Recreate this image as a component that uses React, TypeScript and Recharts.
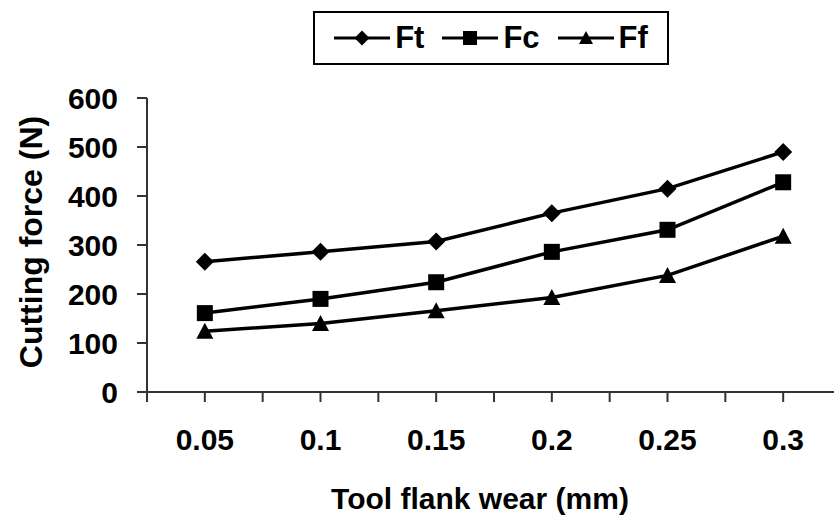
import { LineChart, Line, XAxis, YAxis, Legend } from 'recharts';

// tool flank wear (mm) on the x axis
const wear = [0.05, 0.1, 0.15, 0.2, 0.25, 0.3];
const wearLabels = ['0.05', '0.1', '0.15', '0.2', '0.25', '0.3'];
const wearTicks = [0.025, 0.05, 0.075, 0.1, 0.125, 0.15, 0.175, 0.2, 0.225, 0.25, 0.275, 0.3];

// cutting force components (N)
const ft = [266, 286, 307, 365, 415, 490];
const fc = [161, 190, 224, 286, 331, 428];
const ff = [124, 140, 166, 193, 238, 318];

const forceTicks = [0, 100, 200, 300, 400, 500, 600];

const data = wear.map((w, i) => ({ wear: w, Ft: ft[i], Fc: fc[i], Ff: ff[i] }));

const font = '"Liberation Sans", Arial, sans-serif';
const axisColor = '#333';

const Diamond = ({ cx, cy, r = 9 }: any) => (
  <path d={`M${cx},${cy - r}L${cx + r},${cy}L${cx},${cy + r}L${cx - r},${cy}Z`} fill="#000" />
);
const Square = ({ cx, cy, r = 8 }: any) => (
  <rect x={cx - r} y={cy - r} width={r * 2} height={r * 2} fill="#000" />
);
const Triangle = ({ cx, cy, r = 8.5 }: any) => (
  <path d={`M${cx},${cy - r}L${cx + r},${cy + r - 1}L${cx - r},${cy + r - 1}Z`} fill="#000" />
);

const series = [
  { key: 'Ft', Marker: Diamond },
  { key: 'Fc', Marker: Square },
  { key: 'Ff', Marker: Triangle },
];

const wearFormatter = (v: number) => {
  const i = wear.findIndex((w) => Math.abs(w - v) < 1e-6);
  return i >= 0 ? wearLabels[i] : '';
};

const LegendBox = () => (
  <div
    style={{
      width: 356,
      height: 54,
      boxSizing: 'border-box',
      border: '2px solid #000',
      display: 'flex',
      alignItems: 'center',
      justifyContent: 'center',
      fontFamily: font,
      fontWeight: 'bold',
      fontSize: 31,
      color: '#000',
    }}
  >
    {series.map(({ key, Marker }, i) => (
      <div key={key} style={{ display: 'flex', alignItems: 'center', marginRight: i < 2 ? 18 : 0 }}>
        <svg width={56} height={20}>
          <line x1={0} y1={10} x2={56} y2={10} stroke="#000" strokeWidth={3} />
          <Marker cx={28} cy={10} r={key === 'Ft' ? 7.5 : 7} />
        </svg>
        <span style={{ marginLeft: 5 }}>{key}</span>
      </div>
    ))}
  </div>
);

export default function App() {
  return (
    <div style={{ position: 'absolute', left: 0, top: 0, width: 834, height: 519, overflow: 'hidden', background: '#fff' }}>
      <LineChart width={850} height={519} data={data} margin={{ top: 98, right: 9, bottom: 0, left: 0 }}>
        <XAxis
          type="number"
          dataKey="wear"
          domain={[0.025, 0.325]}
          ticks={wearTicks}
          interval={0}
          height={127}
          tickSize={10}
          tickMargin={27}
          tickFormatter={wearFormatter}
          stroke={axisColor}
          strokeWidth={2}
          tick={{ fill: '#000', fontSize: 30, fontWeight: 'bold', fontFamily: font }}
          label={({ viewBox }: any) => (
            <text
              x={viewBox.x + viewBox.width / 2 - 14}
              y={viewBox.y + 117}
              textAnchor="middle"
              fontFamily={font}
              fontWeight="bold"
              fontSize={30}
              fill="#000"
            >
              Tool flank wear (mm)
            </text>
          )}
        />
        <YAxis
          domain={[0, 600]}
          ticks={forceTicks}
          interval={0}
          width={147}
          tickSize={10}
          tickMargin={19}
          stroke={axisColor}
          strokeWidth={2}
          tick={{ fill: '#000', fontSize: 30, fontWeight: 'bold', fontFamily: font }}
          label={({ viewBox }: any) => {
            const cx = 42;
            const cy = viewBox.y + viewBox.height / 2 - 3;
            return (
              <text
                x={cx}
                y={cy}
                transform={`rotate(-90, ${cx}, ${cy})`}
                textAnchor="middle"
                fontFamily={font}
                fontWeight="bold"
                fontSize={32}
                fill="#000"
              >
                Cutting force (N)
              </text>
            );
          }}
        />
        <Legend
          layout="vertical"
          align="center"
          verticalAlign="middle"
          content={() => <LegendBox />}
          wrapperStyle={{ top: 11, left: 313, width: 356, height: 54 }}
        />
        {series.map(({ key, Marker }) => (
          <Line
            key={key}
            dataKey={key}
            stroke="#000"
            strokeWidth={3.5}
            isAnimationActive={false}
            dot={(p: any) => <Marker key={`${key}-${p.index}`} cx={p.cx} cy={p.cy} />}
            activeDot={false}
          />
        ))}
      </LineChart>
    </div>
  );
}
